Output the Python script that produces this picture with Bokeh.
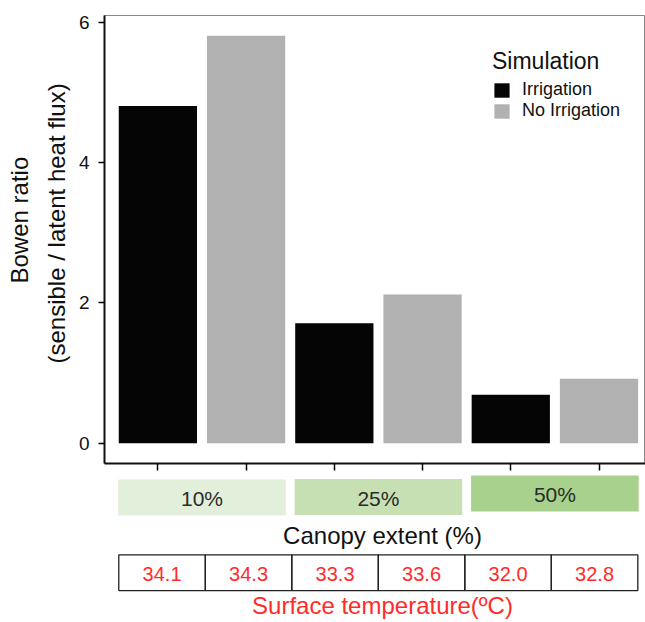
import numpy as np
from bokeh.plotting import figure
from bokeh.layouts import column
from bokeh.models import Range1d, Legend, LegendItem, FixedTicker, Title
from bokeh.core.properties import value
from bokeh.embed import file_html
from bokeh.resources import INLINE

# ---- data ----
canopy = ["10%", "25%", "50%"]
simulation = ["Irrigation", "No Irrigation"]
bowen_irrigation = [4.81, 1.71, 0.69]
bowen_no_irrigation = [5.81, 2.12, 0.92]
surface_temp = [34.1, 34.3, 33.3, 33.6, 32.0, 32.8]
y_ticks = [0, 2, 4, 6]
y_title = ["Bowen ratio", "(sensible / latent heat flux)"]

FONT = "Liberation Sans"
sim_colors = ["#050505", "#b1b1b1"]
canopy_colors = ["#e2efda", "#c6e0b4", "#a9d18e"]
RED = "#ff2b2b"

n = len(canopy)
x_irr = [2 * i + 1 for i in range(n)]
x_noirr = [2 * i + 2 for i in range(n)]
ymax = max(bowen_irrigation + bowen_no_irrigation)
pad = 0.05 * ymax

x_range = Range1d(0.395, 6.527)

p = figure(width=645, height=472, x_range=x_range,
           y_range=Range1d(-pad, ymax + pad),
           output_backend="svg", toolbar_location=None,
           min_border_left=104, min_border_right=0, min_border_top=15, min_border_bottom=9)

r_irr = p.vbar(x=x_irr, top=bowen_irrigation, bottom=0, width=0.887,
               fill_color=sim_colors[0], line_color=None)
r_no = p.vbar(x=x_noirr, top=bowen_no_irrigation, bottom=0, width=0.887,
              fill_color=sim_colors[1], line_color=None)

p.xgrid.visible = False
p.ygrid.visible = False
p.outline_line_color = "#888888"
p.outline_line_width = 1

xt = list(range(1, 2 * n + 1))
p.xaxis.ticker = FixedTicker(ticks=xt)
p.xaxis.major_label_overrides = {t: "" for t in xt}
p.xaxis.major_label_text_font_size = "1px"
p.xaxis.major_label_standoff = 0
p.xaxis.axis_line_width = 2
p.xaxis.axis_line_color = "#111111"
p.xaxis.major_tick_out = 7
p.xaxis.major_tick_in = 0
p.xaxis.major_tick_line_width = 1.5
p.xaxis.minor_tick_line_color = None

p.yaxis.ticker = FixedTicker(ticks=y_ticks)
p.yaxis.axis_line_width = 2
p.yaxis.axis_line_color = "#111111"
p.yaxis.major_tick_out = 6
p.yaxis.major_tick_in = 0
p.yaxis.major_tick_line_width = 1.5
p.yaxis.minor_tick_line_color = None
p.yaxis.major_label_text_font = FONT
p.yaxis.major_label_text_font_size = "19px"
p.yaxis.major_label_text_color = "#111111"
p.yaxis.major_label_standoff = 9

# y-axis title: two single-line titles on the left side (inner line added first)
for txt, so, off in zip(reversed(y_title), [12, 4], [100, 180]):
    p.add_layout(Title(text=txt, align="left", offset=off, standoff=so,
                       text_font=FONT, text_font_size="24px", text_font_style="normal",
                       text_color="#111111"), "left")

legend = Legend(items=[LegendItem(label=simulation[0], renderers=[r_irr]),
                       LegendItem(label=simulation[1], renderers=[r_no])],
                location=(388, 342), title="Simulation",
                title_text_font=FONT, title_text_font_size="23px",
                title_text_font_style="normal", title_text_color="#111111",
                title_standoff=4,
                label_text_font=FONT, label_text_font_size="18px",
                label_text_color="#111111", label_standoff=11,
                glyph_width=19, glyph_height=18, label_height=14,
                spacing=0, padding=0, margin=0,
                border_line_color=None, background_fill_alpha=0)
p.add_layout(legend, "center")

# ---- lower panel: canopy boxes and surface temperature table ----
H2 = 150
q = figure(width=645, height=H2, x_range=x_range, y_range=Range1d(H2, 0),
           output_backend="svg", toolbar_location=None,
           x_axis_type=None, y_axis_type=None,
           min_border_left=104, min_border_right=0, min_border_top=0, min_border_bottom=0)
q.xgrid.visible = False
q.ygrid.visible = False
q.outline_line_color = None

box_x = [(x_irr[i] + x_noirr[i]) / 2 for i in range(n)]
box_y = [25, 24.5, 21]
box_label_y = [26, 26, 22]
q.rect(x=box_x, y=box_y, width=1.9, height=36, fill_color=canopy_colors, line_color=None)
q.text(x=box_x, y=box_label_y, text=canopy, text_align="center", text_baseline="middle",
       text_font=value(FONT), text_font_size="21px", text_color="#2a2a2a")
q.text(x=[3.546], y=[63], text=["Canopy extent (%)"], text_align="center",
       text_baseline="middle", text_font=value(FONT), text_font_size="24px",
       text_color="#111111")

tbl_left, tbl_right = 0.557, 6.44
m = len(surface_temp)
cw = (tbl_right - tbl_left) / m
cell_x = [tbl_left + cw * (i + 0.5) for i in range(m)]
q.rect(x=cell_x, y=[100.2] * m, width=cw, height=35.7, fill_color=None,
       line_color="#222222", line_width=1.3)
q.text(x=cell_x, y=[101.5] * m, text=[f"{t:.1f}" for t in surface_temp],
       text_align="center", text_baseline="middle", text_font=value(FONT),
       text_font_size="20px", text_color=RED)
q.text(x=[3.546], y=[133], text=["Surface temperature(ºC)"], text_align="center",
       text_baseline="middle", text_font=value(FONT), text_font_size="24px",
       text_color=RED)

layout = column(p, q, spacing=0)
open("out.html", "w").write(file_html(layout, INLINE))
